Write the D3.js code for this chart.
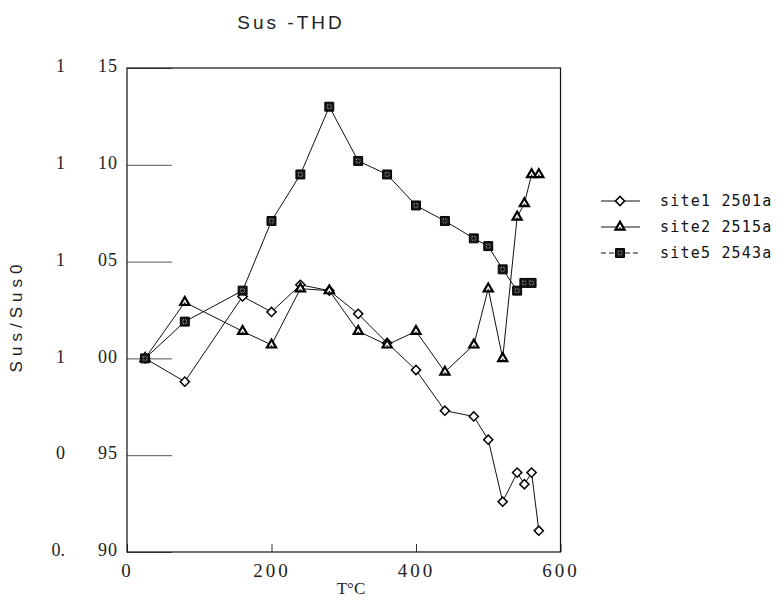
<!DOCTYPE html>
<html>
<head>
<meta charset="utf-8">
<script src="https://cdn.jsdelivr.net/npm/d3@7"></script>
<style>
  body { margin: 0; background: #fff; }
  svg { display: block; }
</style>
</head>
<body>
<script>
// data
var temps = [25, 80, 160, 200, 240, 280, 320, 360, 400, 440, 480, 500, 520, 540, 550, 560, 570];
var site1 = [1.000, 0.988, 1.032, 1.024, 1.038, 1.035, 1.023, 1.008, 0.994, 0.973, 0.970, 0.958, 0.926, 0.941, 0.935, 0.941, 0.911];
var site2 = [1.000, 1.029, 1.014, 1.007, 1.036, 1.035, 1.014, 1.007, 1.014, 0.993, 1.007, 1.036, 1.000, 1.073, 1.080, 1.095, 1.095];
var temps5 = [25, 80, 160, 200, 240, 280, 320, 360, 400, 440, 480, 500, 520, 540, 550, 560];
var site5 = [1.000, 1.019, 1.035, 1.071, 1.095, 1.130, 1.102, 1.095, 1.079, 1.071, 1.062, 1.058, 1.046, 1.035, 1.039, 1.039];

var seriesNames = ["site1 2501a", "site2 2515a", "site5 2543a"];
var xTicks = [0, 200, 400, 600];
var yTicks = [0.90, 0.95, 1.00, 1.05, 1.10, 1.15];
var yTickLabels = ["0. 90", "0 95", "1 00", "1 05", "1 10", "1 15"];

// canvas size
var margin = { top: 68, left: 127 },
    width = 433.5,
    height = 484;

var svg = d3.select("body").append("svg")
    .attr("width", 784)
    .attr("height", 612);

var g = svg.append("g")
    .attr("transform", "translate(" + margin.left + "," + margin.top + ")");

var x = d3.scaleLinear().domain([0, 600]).range([0, width]);
var y = d3.scaleLinear().domain([0.90, 1.15]).range([height, 0]);

// y axis: long inward ticks, split labels
var yAxis = g.append("g")
    .call(d3.axisLeft(y)
        .tickValues(yTicks)
        .tickSizeInner(-45)
        .tickSizeOuter(0)
        .tickPadding(0)
        .tickFormat(function(d, i) { return yTickLabels[i]; }));
yAxis.select(".domain").remove();
yAxis.selectAll(".tick line").attr("stroke", "#555");
yAxis.selectAll(".tick text").each(function() {
    var t = d3.select(this), parts = t.text().split(" ");
    t.text(null)
        .attr("font-family", "'Liberation Serif', serif")
        .attr("font-size", 18)
        .attr("fill", "#222")
        .attr("dy", "0.2em");
    t.append("tspan").attr("x", -62).attr("text-anchor", "end").text(parts[0]);
    t.append("tspan").attr("x", -9).attr("text-anchor", "end")
        .attr("letter-spacing", 1).text(parts[1]);
});

// x axis: short inward ticks
var xAxis = g.append("g")
    .attr("transform", "translate(0," + height + ")")
    .call(d3.axisBottom(x)
        .tickValues(xTicks)
        .tickSizeInner(-8)
        .tickSizeOuter(0)
        .tickPadding(12)
        .tickFormat(d3.format("d")));
xAxis.select(".domain").remove();
xAxis.selectAll(".tick line").attr("stroke", "#333");
xAxis.selectAll(".tick text")
    .attr("font-family", "'Liberation Serif', serif")
    .attr("font-size", 19)
    .attr("letter-spacing", 3)
    .attr("fill", "#222");

// frame
g.append("rect")
    .attr("width", width)
    .attr("height", height)
    .attr("fill", "none")
    .attr("stroke", "#111")
    .attr("stroke-width", 1.2);

var line = d3.line()
    .x(function(d) { return x(d[0]); })
    .y(function(d) { return y(d[1]); });

var sets = [
    d3.zip(temps, site1),
    d3.zip(temps, site2),
    d3.zip(temps5, site5)
];

// marker drawing
function drawMarker(sel, k) {
    if (k === 0) {
        sel.append("path")
            .attr("d", d3.symbol(d3.symbolSquare, 42)())
            .attr("transform", "rotate(45)")
            .attr("fill", "#fff")
            .attr("stroke", "#000")
            .attr("stroke-width", 1.5);
    } else if (k === 1) {
        sel.append("path")
            .attr("d", d3.symbol(d3.symbolTriangle, 36)())
            .attr("fill", "#fff")
            .attr("stroke", "#000")
            .attr("stroke-width", 2.2);
        sel.append("circle")
            .attr("cy", 1)
            .attr("r", 0.9)
            .attr("fill", "#333");
    } else {
        sel.append("path")
            .attr("d", d3.symbol(d3.symbolSquare, 80)())
            .attr("fill", "#151515")
            .attr("stroke", "#000");
        sel.append("path")
            .attr("d", d3.symbol(d3.symbolSquare, 14)())
            .attr("fill", "none")
            .attr("stroke", "#bbb")
            .attr("stroke-width", 0.8)
            .attr("stroke-dasharray", "1,1");
    }
}

sets.forEach(function(data, k) {
    g.append("path")
        .datum(data)
        .attr("fill", "none")
        .attr("stroke", "#111")
        .attr("stroke-width", 1)
        .attr("d", line);
});

sets.forEach(function(data, k) {
    g.selectAll(".m" + k)
        .data(data)
        .enter()
        .append("g")
        .attr("class", "m" + k)
        .attr("transform", function(d) { return "translate(" + x(d[0]) + "," + y(d[1]) + ")"; })
        .each(function() { drawMarker(d3.select(this), k); });
});

// legend
var legend = svg.append("g").attr("transform", "translate(601,201)");
seriesNames.forEach(function(name, k) {
    var row = legend.append("g").attr("transform", "translate(0," + k * 26 + ")");
    row.append("line")
        .attr("x1", 0).attr("x2", 39)
        .attr("stroke", "#111")
        .attr("stroke-width", 1)
        .attr("stroke-dasharray", k === 2 ? "5,3" : null);
    drawMarker(row.append("g").attr("transform", "translate(19,0)"), k);
    row.append("text")
        .attr("x", 59)
        .attr("dy", "0.35em")
        .attr("font-family", "'DejaVu Sans Mono', monospace")
        .attr("font-size", 15)
        .attr("letter-spacing", 1.2)
        .attr("fill", "#111")
        .text(name);
});

// title and axis titles
svg.append("text")
    .attr("x", 291)
    .attr("y", 29)
    .attr("text-anchor", "middle")
    .attr("font-family", "'Liberation Sans Narrow', 'Liberation Sans', sans-serif")
    .attr("font-size", 19)
    .attr("letter-spacing", 3)
    .attr("fill", "#222")
    .text("Sus -THD");

svg.append("text")
    .attr("transform", "translate(22,316) rotate(-90)")
    .attr("text-anchor", "middle")
    .attr("font-family", "'Liberation Sans', sans-serif")
    .attr("font-size", 17)
    .attr("letter-spacing", 5)
    .attr("fill", "#222")
    .text("Sus/Sus0");

svg.append("text")
    .attr("x", 351)
    .attr("y", 594)
    .attr("text-anchor", "middle")
    .attr("font-family", "'Liberation Serif', serif")
    .attr("font-size", 17)
    .attr("fill", "#222")
    .text("T°C");
</script>
</body>
</html>
